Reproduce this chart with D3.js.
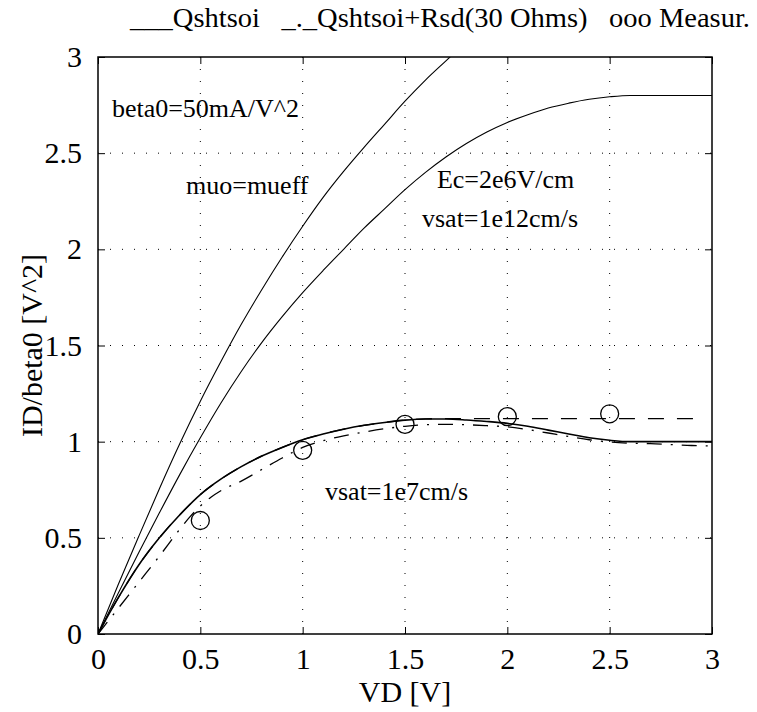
<!DOCTYPE html>
<html><head><meta charset="utf-8">
<script src="https://cdn.jsdelivr.net/npm/d3@7"></script>
<style>body{margin:0;background:#fff}svg{display:block}</style>
</head><body><svg id="c" width="757" height="712"></svg>
<script>
// ---- data ----
const xTicks = [0, 0.5, 1, 1.5, 2, 2.5, 3];
const yTicks = [0, 0.5, 1, 1.5, 2, 2.5, 3];
const xTickLabels = ["0", "0.5", "1", "1.5", "2", "2.5", "3"];
const yTickLabels = ["0", "0.5", "1", "1.5", "2", "2.5", "3"];
// muo=mueff (no velocity saturation)
const curveA_x = [0, 0.1, 0.2, 0.3, 0.4, 0.5, 0.6, 0.7, 0.8, 0.9, 1.0, 1.1, 1.2, 1.3, 1.4, 1.5, 1.6, 1.7, 1.8];
const curveA_y = [0, 0.26, 0.51, 0.755, 0.99, 1.21, 1.415, 1.61, 1.79, 1.96, 2.12, 2.27, 2.405, 2.53, 2.65, 2.77, 2.88, 2.98, 3.08];
// Ec=2e6V/cm vsat=1e12cm/s
const curveB_x = [0, 0.1, 0.2, 0.3, 0.4, 0.5, 0.6, 0.7, 0.8, 0.9, 1.0, 1.1, 1.2, 1.3, 1.4, 1.5, 1.6, 1.7, 1.8, 1.9, 2.0, 2.1, 2.2, 2.3, 2.4, 2.5, 2.6, 3.0];
const curveB_y = [0, 0.215, 0.425, 0.63, 0.83, 1.02, 1.2, 1.365, 1.515, 1.65, 1.775, 1.89, 2.0, 2.11, 2.21, 2.31, 2.40, 2.48, 2.55, 2.61, 2.66, 2.70, 2.735, 2.76, 2.78, 2.793, 2.80, 2.80];
// Qshtsoi, vsat=1e7cm/s (solid)
const qsh_x = [0, 0.1, 0.2, 0.3, 0.4, 0.5, 0.6, 0.7, 0.8, 0.9, 1.0, 1.1, 1.2, 1.3, 1.4, 1.5, 1.6, 1.7, 1.8, 1.9, 2.0, 2.1, 2.2, 2.3, 2.4, 2.5, 2.6, 2.8, 3.0];
const qsh_y = [0, 0.19, 0.36, 0.50, 0.62, 0.725, 0.805, 0.87, 0.925, 0.97, 1.01, 1.04, 1.065, 1.085, 1.10, 1.112, 1.118, 1.118, 1.113, 1.105, 1.095, 1.08, 1.06, 1.04, 1.02, 1.007, 1.0, 1.0, 1.0];
// dashed curve
const dash_x = [0, 0.1, 0.2, 0.3, 0.4, 0.5, 0.6, 0.7, 0.8, 0.9, 1.0, 1.1, 1.2, 1.3, 1.4, 1.5, 1.6, 1.7, 2.0, 2.5, 2.95];
const dash_y = [0, 0.19, 0.36, 0.50, 0.62, 0.725, 0.805, 0.87, 0.925, 0.97, 1.01, 1.04, 1.065, 1.085, 1.10, 1.112, 1.118, 1.12, 1.12, 1.12, 1.12];
// Qshtsoi+Rsd(30 Ohms) (dash-dot)
const rsd_x = [0, 0.1, 0.2, 0.3, 0.4, 0.45, 0.5, 0.55, 0.6, 0.7, 0.8, 0.9, 1.0, 1.1, 1.2, 1.3, 1.4, 1.5, 1.6, 1.7, 1.8, 1.9, 2.0, 2.1, 2.2, 2.3, 2.4, 2.5, 2.6, 2.7, 2.8, 2.9, 3.0];
const rsd_y = [0, 0.135, 0.27, 0.405, 0.545, 0.61, 0.665, 0.71, 0.745, 0.795, 0.855, 0.915, 0.97, 1.005, 1.03, 1.05, 1.067, 1.08, 1.088, 1.09, 1.088, 1.083, 1.077, 1.063, 1.045, 1.027, 1.01, 0.998, 0.992, 0.99, 0.985, 0.98, 0.978];
// measurements
const meas_x = [0.5, 1.0, 1.5, 2.0, 2.5];
const meas_y = [0.59, 0.955, 1.09, 1.13, 1.145];
const annotations = ["beta0=50mA/V^2", "muo=mueff", "Ec=2e6V/cm", "vsat=1e12cm/s", "vsat=1e7cm/s"];
const annotX = [0.068, 0.43, 1.656, 1.583, 1.109];
const annotY = [2.688, 2.288, 2.319, 2.116, 0.697];
const titleText = "___Qshtsoi   _._Qshtsoi+Rsd(30 Ohms)   ooo Measur.";

// ---- layout ----
const FONT = "'Liberation Serif', 'Times New Roman', Times, Tinos, 'DejaVu Serif', serif";
const L = 98, R = 712, T = 57, B = 634;
const svg = d3.select("#c");
const x = d3.scaleLinear().domain([0, 3]).range([L, R]);
const y = d3.scaleLinear().domain([0, 3]).range([B, T]);

// grid
const g = svg.append("g");
g.selectAll(".gx").data(xTicks.slice(1, -1)).enter().append("line")
  .attr("x1", d => x(d)).attr("x2", d => x(d)).attr("y1", T).attr("y2", B)
  .attr("stroke", "#000").attr("stroke-width", 1).attr("stroke-dasharray", "1,11");
g.selectAll(".gy").data(yTicks.slice(1, -1)).enter().append("line")
  .attr("y1", d => y(d)).attr("y2", d => y(d)).attr("x1", L).attr("x2", R)
  .attr("stroke", "#000").attr("stroke-width", 1).attr("stroke-dasharray", "1,11");

// axes with inward ticks
const tickLen = 7;
const ax = d3.axisBottom(x).tickValues(xTicks).tickFormat((d, i) => xTickLabels[i]).tickSizeInner(-tickLen).tickSizeOuter(0).tickPadding(14);
const axT = d3.axisTop(x).tickValues(xTicks).tickFormat("").tickSizeInner(-tickLen).tickSizeOuter(0);
const ay = d3.axisLeft(y).tickValues(yTicks).tickFormat((d, i) => yTickLabels[i]).tickSizeInner(-tickLen).tickSizeOuter(0).tickPadding(16);
const ayR = d3.axisRight(y).tickValues(yTicks).tickFormat("").tickSizeInner(-tickLen).tickSizeOuter(0);
function styleAxis(sel, fs) {
  sel.attr("font-family", null).attr("font-size", null);
  sel.select(".domain").remove();
  sel.selectAll("line").attr("stroke", "#000").attr("stroke-width", 1);
  sel.selectAll("text").style("font-family", FONT).style("font-size", fs + "px").attr("fill", "#000");
}
svg.append("g").attr("transform", `translate(0,${B})`).call(ax).call(s => styleAxis(s, 30));
svg.append("g").attr("transform", `translate(0,${T})`).call(axT).call(s => styleAxis(s, 30));
svg.append("g").attr("transform", `translate(${L},0)`).call(ay).call(s => styleAxis(s, 30));
svg.append("g").attr("transform", `translate(${R},0)`).call(ayR).call(s => styleAxis(s, 30));

// clip
svg.append("clipPath").attr("id", "clip").append("rect").attr("x", L).attr("y", T).attr("width", R - L).attr("height", B - T);
const plot = svg.append("g").attr("clip-path", "url(#clip)");
const line = d3.line().x(d => x(d[0])).y(d => y(d[1])).curve(d3.curveMonotoneX);
const zip = (a, b) => a.map((v, i) => [v, b[i]]);

plot.append("path").datum(zip(curveA_x, curveA_y)).attr("d", line).attr("fill", "none").attr("stroke", "#000").attr("stroke-width", 1.1);
plot.append("path").datum(zip(curveB_x, curveB_y)).attr("d", line).attr("fill", "none").attr("stroke", "#000").attr("stroke-width", 1.1);
plot.append("path").datum(zip(dash_x, dash_y)).attr("d", line).attr("fill", "none").attr("stroke", "#000").attr("stroke-width", 1.3).attr("stroke-dasharray", "16,13");
plot.append("path").datum(zip(qsh_x, qsh_y)).attr("d", line).attr("fill", "none").attr("stroke", "#000").attr("stroke-width", 1.6);
plot.append("path").datum(zip(rsd_x, rsd_y)).attr("d", line).attr("fill", "none").attr("stroke", "#000").attr("stroke-width", 1.3).attr("stroke-dasharray", "15,9,2,9");

plot.selectAll(".m").data(zip(meas_x, meas_y)).enter().append("circle")
  .attr("cx", d => x(d[0])).attr("cy", d => y(d[1])).attr("r", 9)
  .attr("fill", "none").attr("stroke", "#000").attr("stroke-width", 1.3);

// box
svg.append("rect").attr("x", L).attr("y", T).attr("width", R - L).attr("height", B - T)
  .attr("fill", "none").attr("stroke", "#000").attr("stroke-width", 1.5);

// annotations
svg.selectAll(".an").data(annotations).enter().append("text")
  .attr("x", (d, i) => x(annotX[i])).attr("y", (d, i) => y(annotY[i]))
  .style("font-family", FONT).style("font-size", "26px").attr("fill", "#000").text(d => d);

// title & axis labels
svg.append("text").attr("x", 130).attr("y", 27).style("font-family", FONT).style("font-size", "27px")
  .style("white-space", "pre").attr("textLength", 620).attr("lengthAdjust", "spacingAndGlyphs")
  .attr("fill", "#000").text(titleText);
svg.append("text").attr("x", (L + R) / 2).attr("y", 702).attr("text-anchor", "middle")
  .style("font-family", FONT).style("font-size", "30px").attr("fill", "#000").text("VD [V]");
svg.append("text").attr("transform", `translate(42,${(T + B) / 2}) rotate(-90)`).attr("text-anchor", "middle")
  .style("font-family", FONT).style("font-size", "30px").attr("fill", "#000").text("ID/beta0 [V^2]");
</script></body></html>
